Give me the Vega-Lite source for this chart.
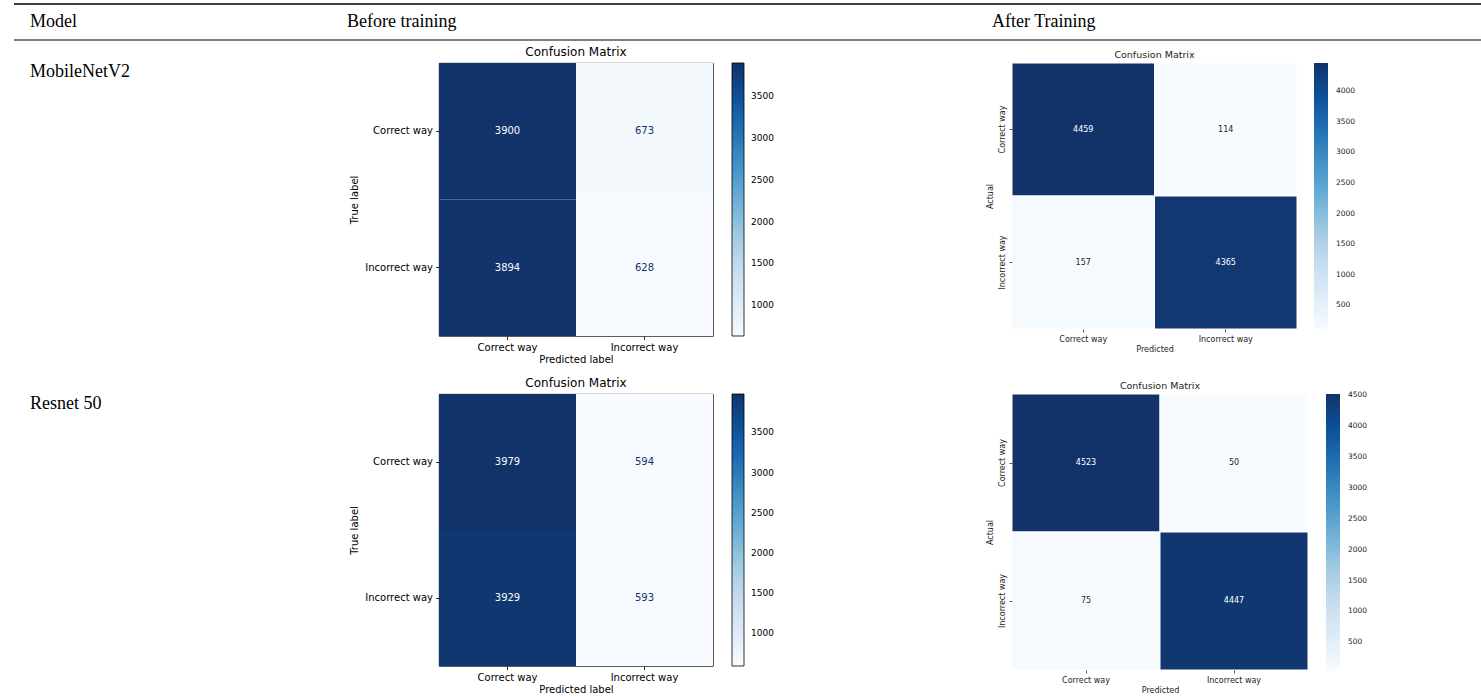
{
  "$schema": "https://vega.github.io/schema/vega-lite/v6.json",
  "padding": {"left": 13, "top": 3, "right": 0, "bottom": 4},
  "background": "white",
  "config": {
    "view": {"stroke": null},
    "font": "DejaVu Sans",
    "axis": {"grid": false, "domain": false, "labelColor": "#000", "titleColor": "#000", "titleFontWeight": "normal", "labelFont": "DejaVu Sans", "titleFont": "DejaVu Sans", "tickColor": "#000"},
    "legend": {"labelColor": "#000", "labelFont": "DejaVu Sans", "padding": 0, "labelOverlap": false}
  },
  "datasets": {
    "header": [
      {"label": "Model", "start": 16},
      {"label": "Before training", "start": 333},
      {"label": "After Training", "start": 978}
    ],
    "mn_before": [
      {"actual": "Correct way", "predicted": "Correct way", "count": 3900},
      {"actual": "Correct way", "predicted": "Incorrect way", "count": 673},
      {"actual": "Incorrect way", "predicted": "Correct way", "count": 3894},
      {"actual": "Incorrect way", "predicted": "Incorrect way", "count": 628}
    ],
    "mn_after": [
      {"actual": "Correct way", "predicted": "Correct way", "count": 4459},
      {"actual": "Correct way", "predicted": "Incorrect way", "count": 114},
      {"actual": "Incorrect way", "predicted": "Correct way", "count": 157},
      {"actual": "Incorrect way", "predicted": "Incorrect way", "count": 4365}
    ],
    "rn_before": [
      {"actual": "Correct way", "predicted": "Correct way", "count": 3979},
      {"actual": "Correct way", "predicted": "Incorrect way", "count": 594},
      {"actual": "Incorrect way", "predicted": "Correct way", "count": 3929},
      {"actual": "Incorrect way", "predicted": "Incorrect way", "count": 593}
    ],
    "rn_after": [
      {"actual": "Correct way", "predicted": "Correct way", "count": 4523},
      {"actual": "Correct way", "predicted": "Incorrect way", "count": 50},
      {"actual": "Incorrect way", "predicted": "Correct way", "count": 75},
      {"actual": "Incorrect way", "predicted": "Incorrect way", "count": 4447}
    ]
  },
  "resolve": {"scale": {"color": "independent"}, "legend": {"color": "independent"}},
  "spacing": 4,
  "vconcat": [
    {
      "width": 1468,
      "height": 36,
      "layer": [
        {
          "data": {"values": [{"edge": "top"}]},
          "mark": {"type": "rule", "color": "#000", "strokeWidth": 1.5},
          "encoding": {"y": {"datum": 1, "type": "quantitative", "scale": {"domain": [0, 1]}, "axis": null}}
        },
        {
          "data": {"values": [{"edge": "bottom"}]},
          "mark": {"type": "rule", "color": "#000", "strokeWidth": 1},
          "encoding": {"y": {"datum": 0, "type": "quantitative", "scale": {"domain": [0, 1]}, "axis": null}}
        },
        {
          "data": {"name": "header"},
          "mark": {"type": "text", "align": "left", "baseline": "middle", "font": "Liberation Serif", "fontSize": 18, "color": "#000", "dy": 0},
          "encoding": {
            "x": {"field": "start", "type": "quantitative", "scale": {"domain": [0, 1468]}, "axis": null},
            "y": {"datum": 0.5, "type": "quantitative", "scale": {"domain": [0, 1]}, "axis": null},
            "text": {"field": "label"}
          }
        }
      ]
    },
    {
      "spacing": 11,
      "resolve": {"scale": {"color": "independent"}, "legend": {"color": "independent"}},
      "vconcat": [
        {
          "bounds": "flush",
          "spacing": 299,
          "resolve": {"scale": {"color": "independent"}, "legend": {"color": "independent"}},
          "hconcat": [
            {
              "width": 126,
              "height": 273,
              "data": {"values": [{"model": "MobileNetV2"}]},
              "mark": {"type": "text", "align": "left", "baseline": "middle", "font": "Liberation Serif", "fontSize": 18, "color": "#000", "dx": 16, "dy": 9},
              "encoding": {
                "x": {"datum": 0, "type": "quantitative", "scale": {"domain": [0, 1]}, "axis": null},
                "y": {"datum": 1, "type": "quantitative", "scale": {"domain": [0, 1]}, "axis": null},
                "text": {"field": "model"}
              }
            },
            {
              "width": 274,
              "height": 273,
              "view": {"stroke": "#000", "strokeWidth": 0.8},
              "title": {"text": "Confusion Matrix", "font": "DejaVu Sans", "fontSize": 12, "fontWeight": "normal", "color": "#000", "offset": 4},
              "data": {"name": "mn_before"},
              "encoding": {
                "x": {"field": "predicted", "type": "nominal", "sort": ["Correct way", "Incorrect way"], "scale": {"paddingInner": 0, "paddingOuter": 0},
                  "axis": {"title": "Predicted label", "labelAngle": 0, "tickSize": 3.5, "tickWidth": 0.8, "labelFontSize": 10, "labelPadding": 3, "titleFontSize": 10, "titlePadding": 2}},
                "y": {"field": "actual", "type": "nominal", "sort": ["Correct way", "Incorrect way"], "scale": {"paddingInner": 0, "paddingOuter": 0},
                  "axis": {"title": "True label", "tickSize": 3.5, "tickWidth": 0.8, "labelFontSize": 10, "labelPadding": 3, "titleFontSize": 10, "titlePadding": 5}}
              },
              "layer": [
                {
                  "mark": {"type": "rect"},
                  "encoding": {
                    "color": {"field": "count", "type": "quantitative",
                      "scale": {"domain": [628, 1037, 1446, 1855, 2264, 2673, 3082, 3491, 3900], "range": ["#f7fbff", "#deebf7", "#c6dbef", "#9ecae1", "#6baed6", "#4292c6", "#2171b5", "#0b519a", "#12336a"], "interpolate": "rgb", "zero": false, "nice": false},
                      "legend": {"title": null, "orient": "right", "offset": 19, "gradientLength": 273, "gradientThickness": 12, "gradientStrokeColor": "#000", "gradientStrokeWidth": 0.8, "values": [1000, 1500, 2000, 2500, 3000, 3500], "format": "d", "labelFontSize": 9, "labelOffset": 7, "direction": "vertical"}}
                  }
                },
                {
                  "mark": {"type": "text", "fontSize": 10, "font": "DejaVu Sans"},
                  "encoding": {
                    "text": {"field": "count"},
                    "color": {"condition": {"test": "datum.count > 2264", "value": "#f7fbff"}, "value": "#12336a"}
                  }
                }
              ]
            },
            {
              "width": 285,
              "height": 266,
              "title": {"text": "Confusion Matrix", "font": "DejaVu Sans", "fontSize": 9.5, "fontWeight": "normal", "color": "#222", "offset": 3},
              "data": {"name": "mn_after"},
              "encoding": {
                "x": {"field": "predicted", "type": "nominal", "sort": ["Correct way", "Incorrect way"], "scale": {"paddingInner": 0, "paddingOuter": 0},
                  "axis": {"title": "Predicted", "labelAngle": 0, "tickSize": 3, "tickWidth": 0.8, "tickColor": "#333", "labelFontSize": 8, "labelColor": "#222", "labelPadding": 3, "titleFontSize": 8, "titleColor": "#222", "titlePadding": 2}},
                "y": {"field": "actual", "type": "nominal", "sort": ["Correct way", "Incorrect way"], "scale": {"paddingInner": 0, "paddingOuter": 0},
                  "axis": {"title": "Actual", "labelAngle": 270, "tickSize": 3, "tickWidth": 0.8, "tickColor": "#333", "labelFontSize": 8, "labelColor": "#222", "labelPadding": 3, "titleFontSize": 8, "titleColor": "#222", "titlePadding": 4}}
              },
              "layer": [
                {
                  "mark": {"type": "rect", "stroke": "white", "strokeWidth": 1},
                  "encoding": {
                    "color": {"field": "count", "type": "quantitative",
                      "scale": {"domain": [114, 657, 1200, 1743, 2287, 2830, 3373, 3916, 4459], "range": ["#f7fbff", "#deebf7", "#c6dbef", "#9ecae1", "#6baed6", "#4292c6", "#2171b5", "#0b519a", "#12336a"], "interpolate": "rgb", "zero": false, "nice": false},
                      "legend": {"title": null, "orient": "right", "offset": 17, "gradientLength": 266, "gradientThickness": 14, "gradientStrokeWidth": 0, "values": [500, 1000, 1500, 2000, 2500, 3000, 3500, 4000], "format": "d", "labelFontSize": 7.5, "labelColor": "#222", "labelOffset": 8, "direction": "vertical"}}
                  }
                },
                {
                  "mark": {"type": "text", "fontSize": 8, "font": "DejaVu Sans"},
                  "encoding": {
                    "text": {"field": "count"},
                    "color": {"condition": {"test": "datum.count > 2287", "value": "#ffffff"}, "value": "#262626"}
                  }
                }
              ]
            }
          ]
        },
        {
          "bounds": "flush",
          "spacing": 299,
          "resolve": {"scale": {"color": "independent"}, "legend": {"color": "independent"}},
          "hconcat": [
            {
              "width": 126,
              "height": 272,
              "data": {"values": [{"model": "Resnet 50"}]},
              "mark": {"type": "text", "align": "left", "baseline": "middle", "font": "Liberation Serif", "fontSize": 18, "color": "#000", "dx": 16, "dy": 10},
              "encoding": {
                "x": {"datum": 0, "type": "quantitative", "scale": {"domain": [0, 1]}, "axis": null},
                "y": {"datum": 1, "type": "quantitative", "scale": {"domain": [0, 1]}, "axis": null},
                "text": {"field": "model"}
              }
            },
            {
              "width": 274,
              "height": 272,
              "view": {"stroke": "#000", "strokeWidth": 0.8},
              "title": {"text": "Confusion Matrix", "font": "DejaVu Sans", "fontSize": 12, "fontWeight": "normal", "color": "#000", "offset": 4},
              "data": {"name": "rn_before"},
              "encoding": {
                "x": {"field": "predicted", "type": "nominal", "sort": ["Correct way", "Incorrect way"], "scale": {"paddingInner": 0, "paddingOuter": 0},
                  "axis": {"title": "Predicted label", "labelAngle": 0, "tickSize": 3.5, "tickWidth": 0.8, "labelFontSize": 10, "labelPadding": 3, "titleFontSize": 10, "titlePadding": 2}},
                "y": {"field": "actual", "type": "nominal", "sort": ["Correct way", "Incorrect way"], "scale": {"paddingInner": 0, "paddingOuter": 0},
                  "axis": {"title": "True label", "tickSize": 3.5, "tickWidth": 0.8, "labelFontSize": 10, "labelPadding": 3, "titleFontSize": 10, "titlePadding": 5}}
              },
              "layer": [
                {
                  "mark": {"type": "rect"},
                  "encoding": {
                    "color": {"field": "count", "type": "quantitative",
                      "scale": {"domain": [593, 1016, 1440, 1863, 2286, 2709, 3132, 3556, 3979], "range": ["#f7fbff", "#deebf7", "#c6dbef", "#9ecae1", "#6baed6", "#4292c6", "#2171b5", "#0b519a", "#12336a"], "interpolate": "rgb", "zero": false, "nice": false},
                      "legend": {"title": null, "orient": "right", "offset": 19, "gradientLength": 272, "gradientThickness": 12, "gradientStrokeColor": "#000", "gradientStrokeWidth": 0.8, "values": [1000, 1500, 2000, 2500, 3000, 3500], "format": "d", "labelFontSize": 9, "labelOffset": 7, "direction": "vertical"}}
                  }
                },
                {
                  "mark": {"type": "text", "fontSize": 10, "font": "DejaVu Sans"},
                  "encoding": {
                    "text": {"field": "count"},
                    "color": {"condition": {"test": "datum.count > 2286", "value": "#f7fbff"}, "value": "#12336a"}
                  }
                }
              ]
            },
            {
              "width": 296,
              "height": 276,
              "title": {"text": "Confusion Matrix", "font": "DejaVu Sans", "fontSize": 9.5, "fontWeight": "normal", "color": "#222", "offset": 3},
              "data": {"name": "rn_after"},
              "encoding": {
                "x": {"field": "predicted", "type": "nominal", "sort": ["Correct way", "Incorrect way"], "scale": {"paddingInner": 0, "paddingOuter": 0},
                  "axis": {"title": "Predicted", "labelAngle": 0, "tickSize": 3, "tickWidth": 0.8, "tickColor": "#333", "labelFontSize": 8, "labelColor": "#222", "labelPadding": 3, "titleFontSize": 8, "titleColor": "#222", "titlePadding": 2}},
                "y": {"field": "actual", "type": "nominal", "sort": ["Correct way", "Incorrect way"], "scale": {"paddingInner": 0, "paddingOuter": 0},
                  "axis": {"title": "Actual", "labelAngle": 270, "tickSize": 3, "tickWidth": 0.8, "tickColor": "#333", "labelFontSize": 8, "labelColor": "#222", "labelPadding": 3, "titleFontSize": 8, "titleColor": "#222", "titlePadding": 4}}
              },
              "layer": [
                {
                  "mark": {"type": "rect", "stroke": "white", "strokeWidth": 1},
                  "encoding": {
                    "color": {"field": "count", "type": "quantitative",
                      "scale": {"domain": [50, 609, 1168, 1727, 2287, 2846, 3405, 3964, 4523], "range": ["#f7fbff", "#deebf7", "#c6dbef", "#9ecae1", "#6baed6", "#4292c6", "#2171b5", "#0b519a", "#12336a"], "interpolate": "rgb", "zero": false, "nice": false},
                      "legend": {"title": null, "orient": "right", "offset": 18, "gradientLength": 276, "gradientThickness": 14, "gradientStrokeWidth": 0, "values": [500, 1000, 1500, 2000, 2500, 3000, 3500, 4000, 4500], "format": "d", "labelFontSize": 7.5, "labelColor": "#222", "labelOffset": 8, "direction": "vertical"}}
                  }
                },
                {
                  "mark": {"type": "text", "fontSize": 8, "font": "DejaVu Sans"},
                  "encoding": {
                    "text": {"field": "count"},
                    "color": {"condition": {"test": "datum.count > 2287", "value": "#ffffff"}, "value": "#262626"}
                  }
                }
              ]
            }
          ]
        }
      ]
    }
  ]
}
